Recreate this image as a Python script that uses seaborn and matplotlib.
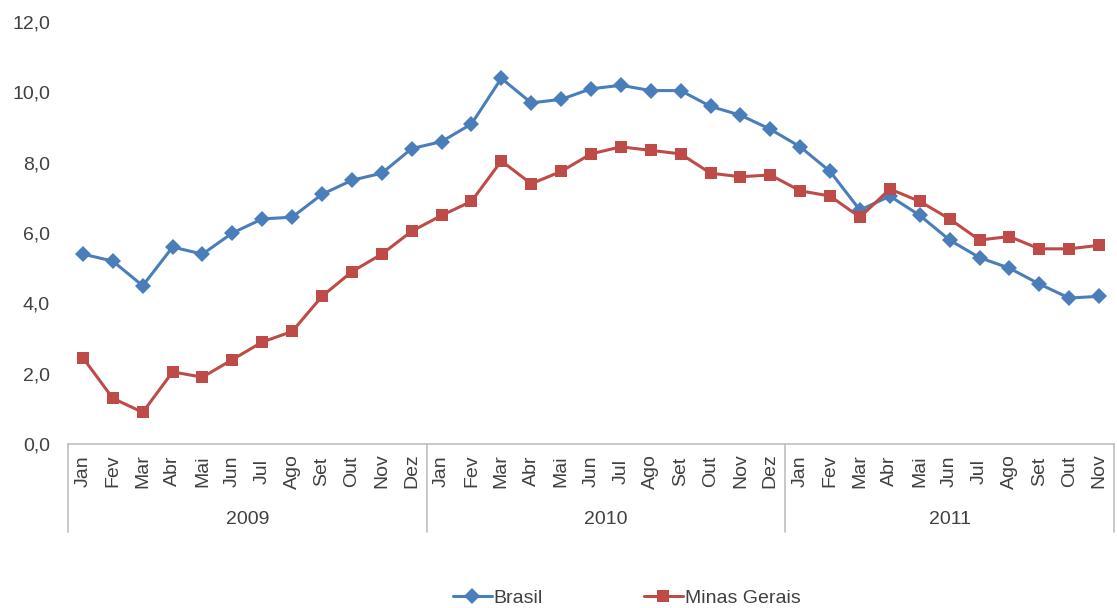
import pandas as pd
import seaborn as sns
import matplotlib.pyplot as plt
import matplotlib.transforms as mtransforms

# Data
years = ['2009', '2010', '2011']
months = ['Jan', 'Fev', 'Mar', 'Abr', 'Mai', 'Jun', 'Jul', 'Ago', 'Set', 'Out', 'Nov', 'Dez']
months_per_year = [12, 12, 11]

brasil = [5.4, 5.2, 4.5, 5.6, 5.4, 6.0, 6.4, 6.45, 7.1, 7.5, 7.7, 8.4,
          8.6, 9.1, 10.4, 9.7, 9.8, 10.1, 10.2, 10.05, 10.05, 9.6, 9.35, 8.95,
          8.45, 7.75, 6.65, 7.05, 6.5, 5.8, 5.3, 5.0, 4.55, 4.15, 4.2]
minas = [2.45, 1.3, 0.9, 2.05, 1.9, 2.4, 2.9, 3.2, 4.2, 4.9, 5.4, 6.05,
         6.5, 6.9, 8.05, 7.4, 7.75, 8.25, 8.45, 8.35, 8.25, 7.7, 7.6, 7.65,
         7.2, 7.05, 6.45, 7.25, 6.9, 6.4, 5.8, 5.9, 5.55, 5.55, 5.65]

labels = [m for n in months_per_year for m in months[:n]]

df = pd.DataFrame({
    'pos': list(range(len(brasil))) * 2,
    'valor': brasil + minas,
    'serie': ['Brasil'] * len(brasil) + ['Minas Gerais'] * len(minas),
})

sns.set_style('white')
plt.rcParams['font.family'] = ['Liberation Sans', 'DejaVu Sans']
text_color = '#404040'
axis_color = '#bfbfbf'
fs = 14

fig = plt.figure(figsize=(11.17, 6.08), dpi=100)
ax = fig.add_axes([68 / 1117, 1 - 444 / 608, (1114 - 68) / 1117, (444 - 22) / 608])

sns.lineplot(data=df, x='pos', y='valor', hue='serie', style='serie',
             palette={'Brasil': '#4a7ebb', 'Minas Gerais': '#be4b48'},
             markers={'Brasil': 'D', 'Minas Gerais': 's'}, dashes=False,
             markersize=8, linewidth=2.2, markeredgewidth=0, ax=ax)

n = len(labels)
ax.set_xlim(-0.5, n - 0.5)
ax.set_ylim(0, 12)
ax.set_yticks(range(0, 13, 2))
ax.set_yticklabels([f'{v:.1f}'.replace('.', ',') for v in range(0, 13, 2)],
                   fontsize=fs, color=text_color)
ax.tick_params(axis='y', length=0, pad=13)

# month labels, centred vertically like Excel does
ax.set_xticks(range(n))
ax.set_xticklabels(labels, rotation=90, fontsize=fs, color=text_color, va='center')
ax.tick_params(axis='x', length=0, pad=19.5)
ax.set_xlabel('')
ax.set_ylabel('')

for side in ['top', 'right', 'left']:
    ax.spines[side].set_visible(False)
ax.spines['bottom'].set_color(axis_color)
ax.spines['bottom'].set_linewidth(1.2)

# year groups: separators and labels below the month labels
trans = mtransforms.blended_transform_factory(ax.transData, ax.transAxes)
bounds = [-0.5]
for k in months_per_year:
    bounds.append(bounds[-1] + k)
for b in bounds:
    ax.plot([b, b], [0, -88 / 422], transform=trans, color=axis_color,
            linewidth=1.2, clip_on=False)
for i, y in enumerate(years):
    ax.text((bounds[i] + bounds[i + 1]) / 2, -75 / 422, y, transform=trans,
            ha='center', va='center', fontsize=fs, color=text_color)

handles, lbls = ax.get_legend_handles_labels()
ax.legend(handles, lbls, loc='center', bbox_to_anchor=(0.534, -154 / 422),
          ncol=2, frameon=False, fontsize=fs, handlelength=2.0,
          handletextpad=0.1, columnspacing=5.2, labelcolor=text_color)

fig.savefig('out.png', dpi=100)
